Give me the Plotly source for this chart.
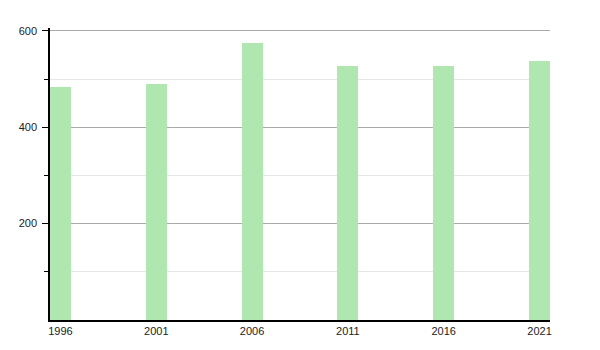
import plotly.graph_objects as go

years = [1996, 2001, 2006, 2011, 2016, 2021]
values = [484, 490, 575, 527, 527, 538]
tick_labels = ["1996", "2001", "2006", "2011", "2016", "2021"]

bar_w = 1.094
fig = go.Figure()
fig.add_trace(go.Bar(
    x=[y + bar_w / 2 for y in years],
    y=values,
    width=bar_w,
    marker=dict(color="rgb(176,230,176)", line=dict(width=0)),
    hoverinfo="x+y",
))

fig.update_layout(
    width=600, height=350,
    margin=dict(l=50, r=50, t=28, b=30),
    paper_bgcolor="white", plot_bgcolor="white",
    showlegend=False,
    font=dict(family="Liberation Sans, Arial, sans-serif", size=11, color="#222222"),
    bargap=0,
)
fig.update_xaxes(
    range=[years[0], years[-1] + bar_w],
    tickmode="array",
    tickvals=[y + bar_w / 2 for y in years],
    ticktext=tick_labels,
    tickfont=dict(color="#222222"),
    showline=True, linecolor="black", linewidth=1.5,
    showgrid=False, ticks="", zeroline=False,
)
fig.update_yaxes(
    range=[0, 606],
    tickmode="array",
    tickvals=[200, 400, 600],
    tickfont=dict(color="#222222"),
    ticklabelstandoff=3,
    showline=True, linecolor="black", linewidth=1.5,
    showgrid=True, gridcolor="#aaaaaa", gridwidth=1,
    ticks="outside", ticklen=6, tickcolor="black",
    zeroline=False,
    minor=dict(tickmode="array", tickvals=[100, 300, 500], showgrid=True,
               gridcolor="#e6e6e6", ticks="outside", ticklen=4, tickcolor="black"),
)

fig.write_html("out.html")
